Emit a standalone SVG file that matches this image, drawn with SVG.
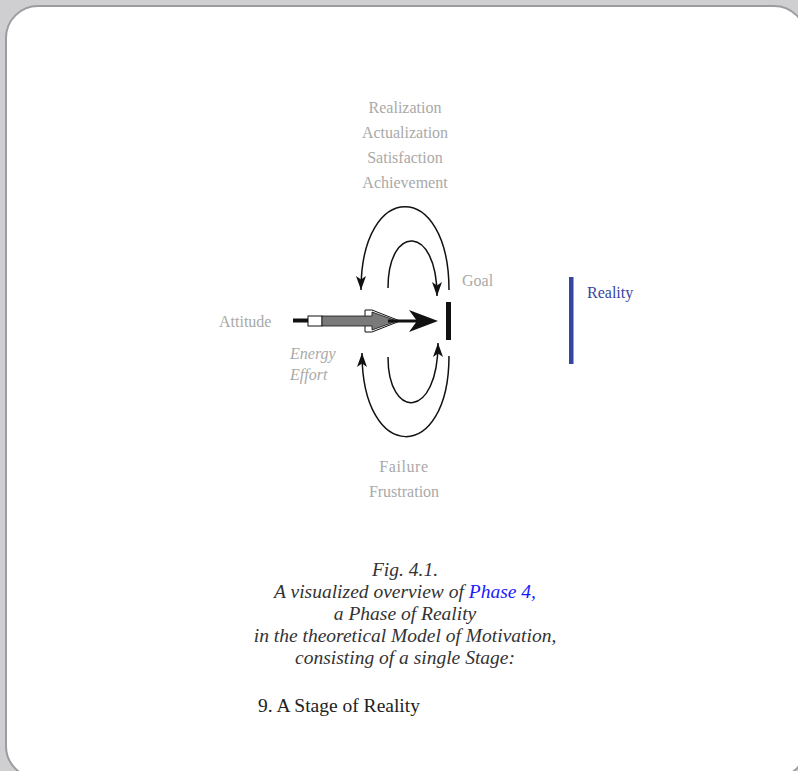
<svg xmlns="http://www.w3.org/2000/svg" width="798" height="771" viewBox="0 0 798 771">
<defs>
<marker id="ah" markerUnits="userSpaceOnUse" markerWidth="16" markerHeight="12" refX="14" refY="5" orient="auto">
<path d="M0,0 L14,5 L0,10 L3.5,5 z" fill="#111"/>
</marker>
<style>
.g{font-family:"Liberation Serif","Times New Roman",serif;font-size:16px;fill:#a9a9a9}
.cap{font-family:"Liberation Serif","Times New Roman",serif;font-size:19.5px;font-style:italic;fill:#333}
.arc{fill:none;stroke:#111;stroke-width:1.5}
</style>
</defs>
<rect x="0" y="0" width="798" height="771" fill="#cfcfd1"/>
<rect x="6" y="6" width="800" height="772" rx="32" ry="32" fill="#fff" stroke="#9c9ca0" stroke-width="2"/>

<g id="labels-top">
<text class="g" x="405" y="113" text-anchor="middle">Realization</text>
<text class="g" x="405" y="138" text-anchor="middle">Actualization</text>
<text class="g" x="405" y="163" text-anchor="middle">Satisfaction</text>
<text class="g" x="405" y="188" text-anchor="middle">Achievement</text>
</g>
<g id="labels-bottom">
<text class="g" x="404" y="472" text-anchor="middle" letter-spacing="0.6">Failure</text>
<text class="g" x="404" y="497" text-anchor="middle">Frustration</text>
</g>

<g id="attitude">
<text class="g" x="219" y="327">Attitude</text>
<rect x="293" y="318.5" width="15" height="4" fill="#111"/>
</g>

<g id="energy">
<text class="g" x="290" y="359" font-style="italic">Energy</text>
<text class="g" x="290" y="380" font-style="italic">Effort</text>
<rect x="308" y="316" width="14" height="10" fill="#fff" stroke="#111" stroke-width="1"/>
<polygon points="365,310 372,310 400,321 372,332 365,332" fill="#fff" stroke="#111" stroke-width="1"/>
<polygon points="322,316 372,316 372,312 397,321 372,330 372,326 322,326" fill="#7a7a7a" stroke="#111" stroke-width="0.8"/>
</g>

<g id="goal">
<text class="g" x="462" y="286">Goal</text>
<rect x="446" y="302" width="5" height="38" fill="#111"/>
</g>

<g id="reality">
<rect x="569" y="277" width="4.5" height="87" fill="#3446a0"/>
<text x="587" y="298" font-family="'Liberation Serif','Times New Roman',serif" font-size="16" fill="#3446a0">Reality</text>
</g>

<g id="connectors">
<line x1="388" y1="321" x2="428" y2="321" stroke="#111" stroke-width="3"/>
<path d="M438,321 L409,310 L417,321 L409,332 z" fill="#111"/>
<path class="arc" d="M449,290 C449,179 361,179 361,290" marker-end="url(#ah)"/>
<path class="arc" d="M388,288 C388,224 437,224 437,296" marker-end="url(#ah)"/>
<path class="arc" d="M449,356 C449,464 362,464 362,353" marker-end="url(#ah)"/>
<path class="arc" d="M388,357 C388,420 438,420 438,343" marker-end="url(#ah)"/>
</g>

<g id="caption">
<text class="cap" x="405" y="576" text-anchor="middle">Fig. 4.1.</text>
<text class="cap" x="405" y="598" text-anchor="middle">A visualized overview of <tspan fill="#1a1aff">Phase 4,</tspan></text>
<text class="cap" x="405" y="620" text-anchor="middle">a Phase of Reality</text>
<text class="cap" x="405" y="642" text-anchor="middle">in the theoretical Model of Motivation,</text>
<text class="cap" x="405" y="664" text-anchor="middle">consisting of a single Stage:</text>
<text x="258" y="712" font-family="'Liberation Serif','Times New Roman',serif" font-size="19.5" fill="#222">9. A Stage of Reality</text>
</g>
</svg>
